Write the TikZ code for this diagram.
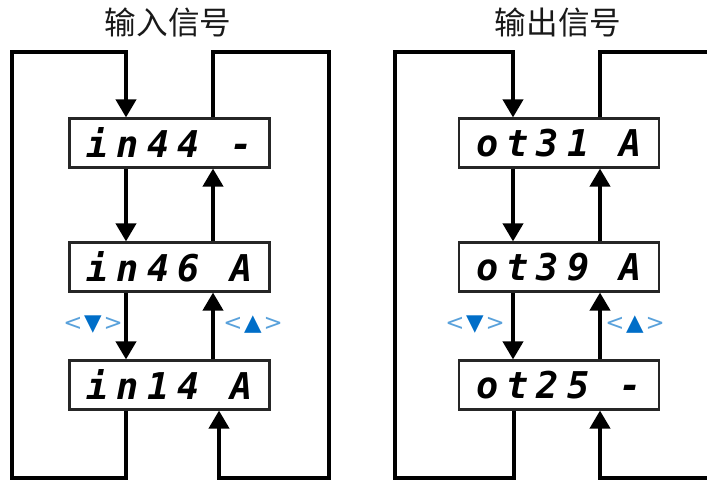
\documentclass[tikz,border=0pt]{standalone}
\usepackage{fontspec}
\usetikzlibrary{arrows.meta}
\newfontfamily\cjk{Noto Sans CJK SC}
\newfontfamily\segfont{DejaVu Sans Mono}[LetterSpace=22]
\newfontfamily\symfont{DejaVu Sans}
\definecolor{keyblue}{RGB}{0,110,200}
\newcommand{\keydown}{{\color{keyblue!65}<}\kern1pt▼\kern1pt{\color{keyblue!65}>}}
\newcommand{\keyup}{{\color{keyblue!65}<}\kern1pt▲\kern1pt{\color{keyblue!65}>}}

\begin{document}
\begin{tikzpicture}[x=1cm,y=1cm,
  display/.style={draw=black!85, line width=1.2pt, minimum width=4cm, minimum height=0.98cm,
    inner sep=0pt, font=\segfont\bfseries\itshape\fontsize{21}{21}\selectfont},
  heading/.style={font=\cjk\fontsize{18}{18}\selectfont, text=black!90},
  keylbl/.style={font=\symfont\fontsize{13}{13}\selectfont, text=keyblue},
  wire/.style={line width=2.2pt},
  flow/.style={wire, -{Triangle[length=0.36cm,width=0.4cm]}}]
\useasboundingbox (0,0) rectangle (14.14,9.62);

% input signal
\node[heading] (tin) at (3.36,9.18) {输入信号};
\node[display] (in1) at (3.39,6.76) {in44 -};
\node[display] (in2) at (3.39,4.28) {in46 A};
\node[display] (in3) at (3.39,1.92) {in14 A};
\node[keylbl] (kdin) at (1.86,3.12) {\keydown};
\node[keylbl] (kuin) at (5.06,3.12) {\keyup};
\coordinate (intl) at (0.24,8.58);
\coordinate (inbl) at (0.24,0.06);
\coordinate (intr) at (6.58,8.58);
\coordinate (inbr) at (6.58,0.06);
\draw[flow] ([xshift=-0.87cm]in1.south) -- ([xshift=-0.87cm]in2.north);
\draw[flow] ([xshift=-0.87cm]in2.south) -- ([xshift=-0.87cm]in3.north);
\draw[flow] ([xshift=0.87cm]in3.north) -- ([xshift=0.87cm]in2.south);
\draw[flow] ([xshift=0.87cm]in2.north) -- ([xshift=0.87cm]in1.south);
\draw[flow] ([xshift=-0.87cm]in3.south) |- (inbl) -- (intl) -| ([xshift=-0.87cm]in1.north);
\draw[flow] ([xshift=0.87cm]in1.north) |- (intr) -- (inbr) -| ([xshift=0.99cm]in3.south);

% output signal
\node[heading] (tout) at (11.16,9.18) {输出信号};
\node[display] (out1) at (11.18,6.76) {ot31 A};
\node[display] (out2) at (11.18,4.28) {ot39 A};
\node[display] (out3) at (11.18,1.92) {ot25 -};
\node[keylbl] (kdout) at (9.50,3.12) {\keydown};
\node[keylbl] (kuout) at (12.70,3.12) {\keyup};
\coordinate (outtl) at (7.90,8.58);
\coordinate (outbl) at (7.90,0.06);
\coordinate (outtr) at (14.14,8.58);
\coordinate (outbr) at (14.14,0.06);
\draw[flow] ([xshift=-0.92cm]out1.south) -- ([xshift=-0.92cm]out2.north);
\draw[flow] ([xshift=-0.92cm]out2.south) -- ([xshift=-0.92cm]out3.north);
\draw[flow] ([xshift=0.82cm]out3.north) -- ([xshift=0.82cm]out2.south);
\draw[flow] ([xshift=0.82cm]out2.north) -- ([xshift=0.82cm]out1.south);
\draw[flow] ([xshift=-0.90cm]out3.south) |- (outbl) -- (outtl) -| ([xshift=-0.92cm]out1.north);
\draw[wire] ([xshift=0.82cm]out1.north) |- (outtr);
\draw[flow] (outbr) -| ([xshift=0.82cm]out3.south);
\end{tikzpicture}
\end{document}
